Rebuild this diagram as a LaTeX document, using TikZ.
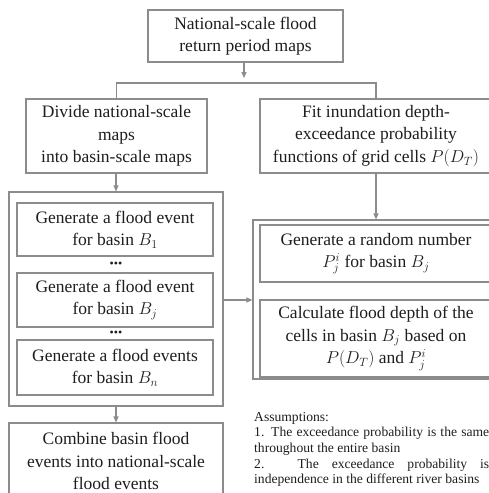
\documentclass[tikz,border=0pt]{standalone}
\usepackage{fontspec}
\setmainfont{Liberation Serif}
\usetikzlibrary{arrows.meta}
\definecolor{lncol}{HTML}{8C8C8C}
\definecolor{txcol}{HTML}{1E1E1E}
\begin{document}
\begin{tikzpicture}[x=1pt,y=-1pt,
  box/.style={draw=lncol, line width=1.1pt, inner sep=0pt, align=center, text=txcol,
    font=\fontsize{17.5}{22.5}\selectfont},
  grp/.style={draw=lncol, line width=1.1pt, inner sep=0pt},
  conn/.style={draw=lncol, line width=1.1pt},
  arr/.style={draw=lncol, line width=1.1pt, -{Triangle[length=6pt,width=5pt]}, color=lncol},
  dotsnode/.style={inner sep=0pt, text=txcol, font=\fontsize{12}{12}\selectfont},
  note/.style={inner sep=0pt, anchor=north west, text width=235pt, align=justify, text=txcol,
    font=\fontsize{13.6}{15.6}\selectfont}]
\useasboundingbox (0,0) rectangle (489,493);
\clip (0,0) rectangle (489,493);

\node[box, minimum width=195pt, minimum height=52pt] (top) at (245.5,36) {National-scale flood\\return period maps};
\node[box, minimum width=181pt, minimum height=74pt] (divide) at (116.5,136) {Divide national-scale\\maps\\into basin-scale maps};
\node[box, minimum width=232pt, minimum height=74pt] (fit) at (376,136) {Fit inundation depth-\\exceedance probability\\functions of grid cells $P(D_T)$};

\node[grp, minimum width=214pt, minimum height=214pt] (lgroup) at (116,299) {};
\node[box, minimum width=196pt, minimum height=53pt] (g1) at (115,229.5) {Generate a flood event\\for basin $B_1$};
\node[dotsnode] (d1) at (116,265) {•••};
\node[box, minimum width=196pt, minimum height=54pt] (g2) at (115,300) {Generate a flood event\\for basin $B_j$};
\node[dotsnode] (d2) at (116,334) {•••};
\node[box, minimum width=196pt, minimum height=55pt] (g3) at (115,367.5) {Generate a flood events\\for basin $B_n$};

\node[grp, minimum width=246pt, minimum height=159pt] (rgroup) at (376,299.5) {};
\node[box, minimum width=232pt, minimum height=57pt] (r1) at (376,253.5) {Generate a random number\\$P_j^i$ for basin $B_j$};
\node[box, minimum width=232pt, minimum height=77pt] (r2) at (376,338.5) {Calculate flood depth of the\\cells in basin $B_j$ based on\\$P(D_T)$ and $P_j^i$};

\node[box, minimum width=214pt, minimum height=76pt] (combine) at (116,461) {Combine basin flood\\events into national-scale\\flood events};

\node[note] (assume) at (254,412) {Assumptions:\\
1. The exceedance probability is the same\linebreak throughout the entire basin\par
2. The exceedance probability is\linebreak independence in the different river basins};

\coordinate (tip) at (244,78);
\coordinate (split) at (244,83);
\draw[arr] (top.south -| tip) -- (tip);
\draw[conn] (divide.north) -- (divide.north |- split) -- (fit.north |- split) -- (fit.north);
\draw[arr] (divide.south -| lgroup.north) -- (lgroup.north);
\draw[arr] (fit.south) -- (rgroup.north);
\draw[arr] (lgroup.east |- g2) -- (rgroup.west |- g2);
\draw[arr] (lgroup.south) -- (combine.north);
\end{tikzpicture}
\end{document}
